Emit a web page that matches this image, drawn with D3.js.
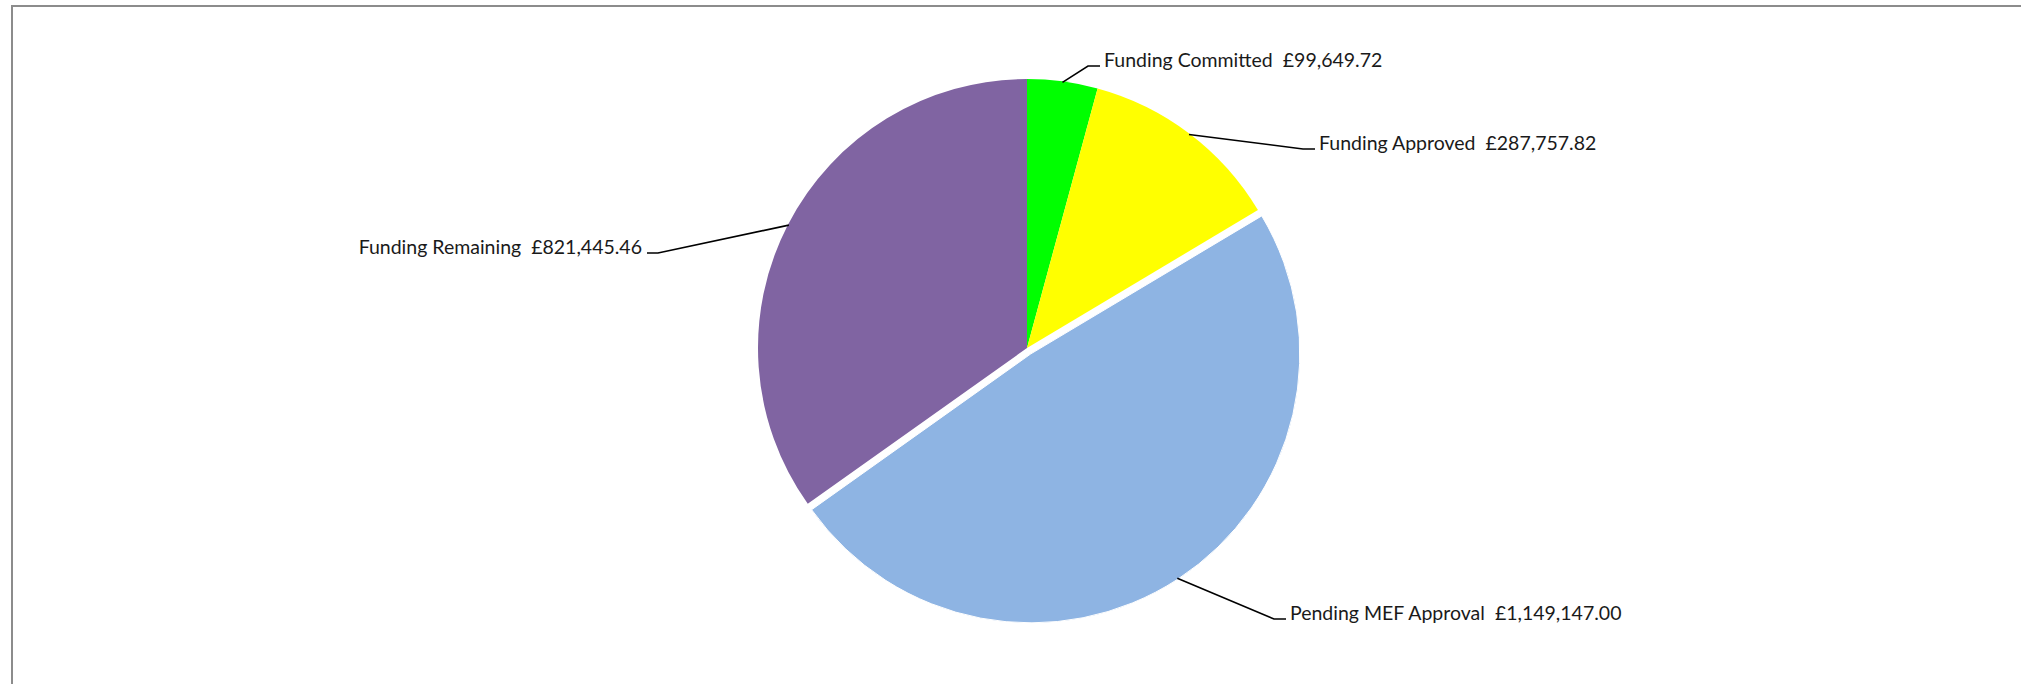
<!DOCTYPE html>
<html>
<head>
<meta charset="utf-8">
<script src="https://cdn.jsdelivr.net/npm/d3@7"></script>
<style>
  html, body { margin: 0; padding: 0; background: #fff; }
  svg { display: block; }
  text { font-family: Lato, "Open Sans", sans-serif; fill: #1a1a1a; white-space: pre; }
</style>
</head>
<body>
<svg id="chart" width="2021" height="684"></svg>
<script>
// Funding breakdown (GBP)
const categories = ["Funding Committed", "Funding Approved", "Pending MEF Approval", "Funding Remaining"];
const amounts = [99649.72, 287757.82, 1149147.00, 821445.46];
const sliceColors = ["#00ff00", "#ffff00", "#8eb4e3", "#8064a2"];
const explodedSlice = "Pending MEF Approval";

const W = 2021, H = 684;
const cx = 1027, cy = 348, R = 269, explode = 7;

// label placement: where the text sits and which side the leader attaches
const labelLayout = {
  "Funding Committed":    { x: 1104, y: 67,  anchor: "start" },
  "Funding Approved":     { x: 1319, y: 150, anchor: "start" },
  "Pending MEF Approval": { x: 1290, y: 620, anchor: "start" },
  "Funding Remaining":    { x: 642,  y: 254, anchor: "end" }
};

const svg = d3.select("#chart");

// frame
svg.append("rect")
  .attr("x", 12).attr("y", 6)
  .attr("width", W + 20).attr("height", H + 20)
  .attr("fill", "#fff")
  .attr("stroke", "#8c8c8c").attr("stroke-width", 2);

const fmt = d3.format(",.2f");
const data = categories.map((c, i) => ({ name: c, value: amounts[i], color: sliceColors[i] }));

const pie = d3.pie().sort(null).value(d => d.value);
const arcs = pie(data);
const arc = d3.arc().innerRadius(0).outerRadius(R);

const g = svg.append("g").attr("transform", `translate(${cx},${cy})`);

function offsetOf(d) {
  if (d.data.name !== explodedSlice) return [0, 0];
  const a = (d.startAngle + d.endAngle) / 2;
  return [Math.sin(a) * explode, -Math.cos(a) * explode];
}

g.selectAll("path.slice")
  .data(arcs)
  .join("path")
  .attr("class", "slice")
  .attr("transform", d => { const o = offsetOf(d); return `translate(${o[0]},${o[1]})`; })
  .attr("d", arc)
  .attr("fill", d => d.data.color)
  .attr("stroke", d => d.data.name === explodedSlice ? "#fff" : "none")
  .attr("stroke-width", 1);

// leader lines and labels
const labels = svg.append("g");
arcs.forEach(d => {
  const L = labelLayout[d.data.name];
  const o = offsetOf(d);
  const a = (d.startAngle + d.endAngle) / 2;
  const ex = cx + o[0] + Math.sin(a) * (R - 1);
  const ey = cy + o[1] - Math.cos(a) * (R - 1);
  const stubY = L.y - 1;
  let p1, p2;
  if (L.anchor === "start") { p2 = [L.x - 4, stubY]; p1 = [L.x - 16, stubY]; }
  else { p2 = [L.x + 5, stubY]; p1 = [L.x + 16, stubY]; }
  labels.append("polyline")
    .attr("points", [[ex, ey], p1, p2].map(p => p.join(",")).join(" "))
    .attr("fill", "none")
    .attr("stroke", "#000")
    .attr("stroke-width", 1.6);
  labels.append("text")
    .attr("x", L.x).attr("y", L.y)
    .attr("text-anchor", L.anchor)
    .attr("font-size", 19.5)
    .text(`${d.data.name}  £${fmt(d.data.value)}`);
});
</script>
</body>
</html>
